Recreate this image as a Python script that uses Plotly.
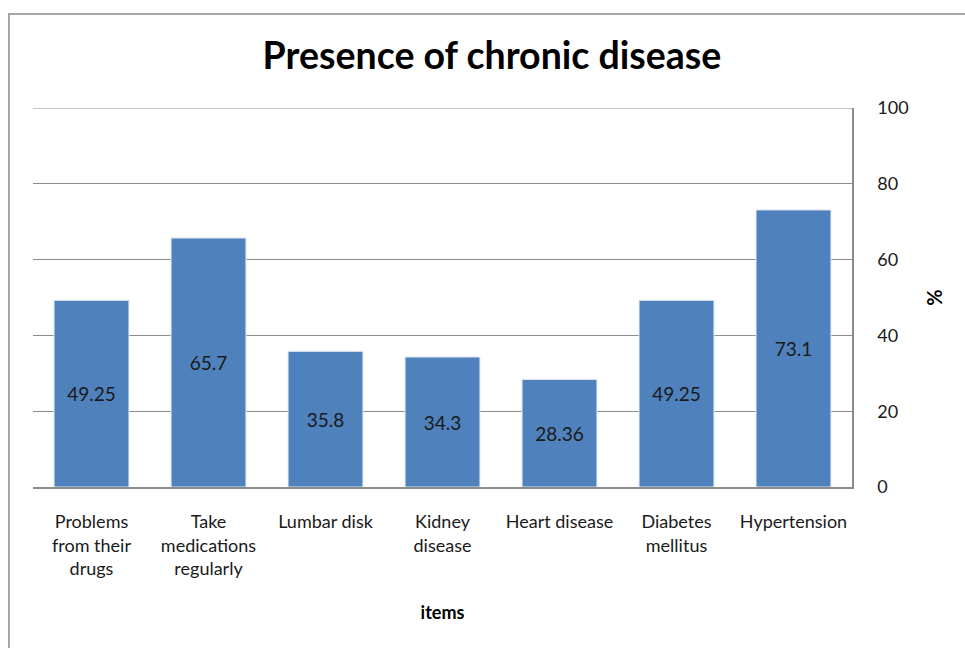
import plotly.graph_objects as go

categories = [
    "Problems<br>from their<br>drugs",
    "Take<br>medications<br>regularly",
    "Lumbar disk",
    "Kidney<br>disease",
    "Heart disease",
    "Diabetes<br>mellitus",
    "Hypertension",
]
values = [49.25, 65.7, 35.8, 34.3, 28.36, 49.25, 73.1]
value_labels = ["49.25", "65.7", "35.8", "34.3", "28.36", "49.25", "73.1"]
y_ticks = [0, 20, 40, 60, 80, 100]

W, H = 965, 648
L, R, T, B = 33, 852, 108, 487

FONT = "Lato, Carlito, Calibri, 'Open Sans', sans-serif"

fig = go.Figure(
    go.Bar(
        x=categories,
        y=values,
        text=value_labels,
        textposition="inside",
        insidetextanchor="middle",
        textangle=0,
        textfont=dict(family=FONT, size=19, color="#1a1a1a"),
        marker=dict(color="#4F81BD", line=dict(color="#dfe6f0", width=1)),
        cliponaxis=False,
    )
)

fig.update_layout(
    width=W,
    height=H,
    margin=dict(l=L, r=W - R, t=T, b=H - B),
    paper_bgcolor="white",
    plot_bgcolor="white",
    bargap=0.36,
    showlegend=False,
    font=dict(family=FONT, color="#1a1a1a"),
    title=dict(
        text="<b>Presence of chronic disease</b>",
        font=dict(family=FONT, size=37.5, color="black"),
        x=492 / W,
        xanchor="center",
        y=1 - 56 / H,
        yanchor="middle",
    ),
)

fig.update_xaxes(
    showgrid=False,
    showline=True,
    linecolor="#8c8c8c",
    linewidth=1.5,
    ticks="",
    tickfont=dict(family=FONT, size=18, color="#1a1a1a"),
    ticklabelstandoff=18,
    title=dict(text="<b>items</b>", font=dict(family=FONT, size=18, color="black"), standoff=28),
)

fig.update_yaxes(
    side="right",
    range=[0, 100],
    tickvals=y_ticks,
    showgrid=True,
    gridcolor="#8c8c8c",
    gridwidth=1,
    showline=True,
    linecolor="#8c8c8c",
    linewidth=1.5,
    ticks="",
    zeroline=False,
    tickfont=dict(family=FONT, size=18, color="#1a1a1a"),
    ticklabelstandoff=20,
    title=dict(text="<b>%</b>", font=dict(family=FONT, size=20, color="black"), standoff=20),
)

# top gridline at 100, which sits on the plot-area edge
fig.add_shape(
    type="line",
    xref="paper",
    yref="y",
    x0=0,
    x1=1,
    y0=100,
    y1=100,
    line=dict(color="#8c8c8c", width=1),
)

# outer chart frame, running off the right and bottom edges
pw, ph = R - L, B - T
fig.add_shape(
    type="rect",
    xref="paper",
    yref="paper",
    x0=(9 - L) / pw,
    x1=(W + 10 - L) / pw,
    y0=(B - (H + 10)) / ph,
    y1=(B - 14) / ph,
    line=dict(color="#a6a6a6", width=2),
    fillcolor="rgba(0,0,0,0)",
    layer="below",
)

fig.write_html("out.html")
